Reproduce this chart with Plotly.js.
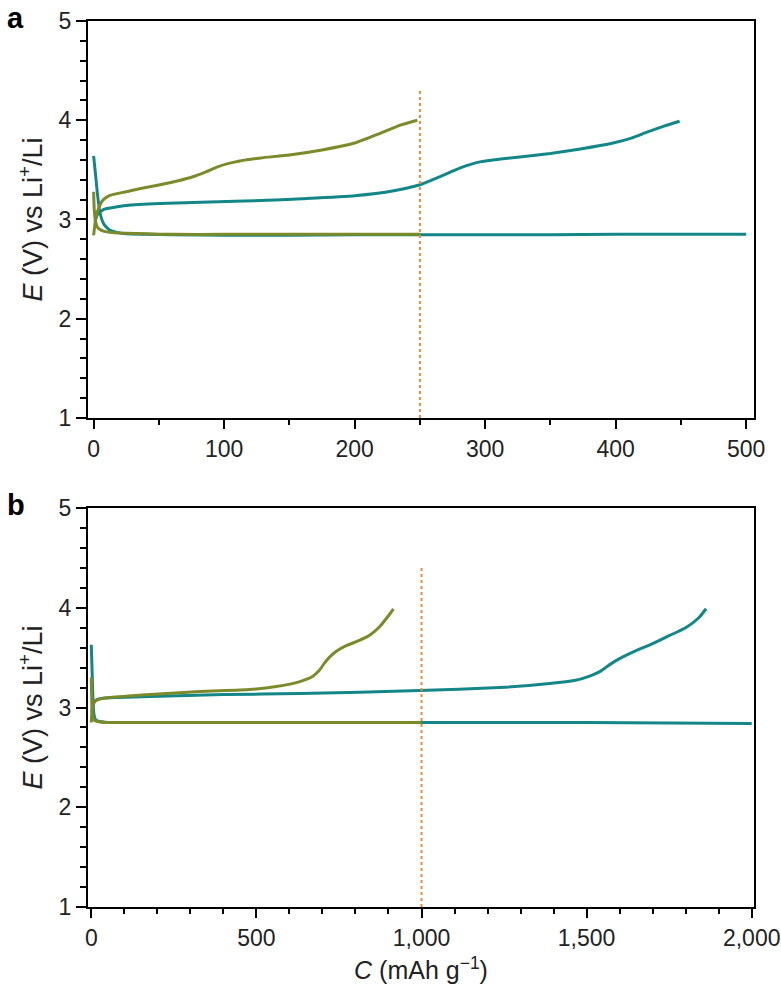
<!DOCTYPE html>
<html>
<head>
<meta charset="utf-8">
<script src="https://cdn.plot.ly/plotly-3.0.1.min.js"></script>
<style>
  body { margin: 0; background: #fff; }
  #chart { width: 781px; height: 997px; }
</style>
</head>
<body>
<div id="chart"></div>
<script>
// panel a: capacity (mAh/g) vs potential (V)
var aOliveChgC = [0, 1, 2.5, 5, 7.5, 12, 18, 25, 35, 51, 65, 76, 86, 95, 102, 112, 128, 150, 175, 200, 220, 235, 248];
var aOliveChgE = [2.84, 2.95, 3.06, 3.15, 3.2, 3.24, 3.26, 3.28, 3.31, 3.35, 3.39, 3.43, 3.48, 3.53, 3.56, 3.59, 3.62, 3.65, 3.7, 3.77, 3.87, 3.95, 4.0];
var aOliveDisC = [0, 0.5, 1.5, 3, 6, 10, 16, 25, 40, 60, 100, 150, 200, 250];
var aOliveDisE = [3.28, 3.1, 2.98, 2.92, 2.89, 2.875, 2.865, 2.86, 2.855, 2.85, 2.85, 2.85, 2.85, 2.85];
var aTealDisC = [0, 1.5, 3, 5, 8, 12.6, 18, 25, 40, 60, 100, 150, 200, 250, 300, 350, 400, 450, 500];
var aTealDisE = [3.64, 3.45, 3.25, 3.06, 2.95, 2.89, 2.87, 2.855, 2.85, 2.845, 2.84, 2.84, 2.845, 2.845, 2.845, 2.845, 2.85, 2.85, 2.85];
var aTealChgC = [1, 3, 7.5, 15, 25, 51, 76, 102, 128, 160, 200, 230, 250, 265, 281, 296, 312, 330, 350, 373, 398, 412, 424, 437, 449];
var aTealChgE = [2.98, 3.05, 3.1, 3.12, 3.14, 3.16, 3.17, 3.18, 3.19, 3.21, 3.24, 3.29, 3.35, 3.43, 3.52, 3.58, 3.61, 3.635, 3.665, 3.71, 3.77, 3.82, 3.88, 3.94, 3.99];
var aCutC = [250, 250];
var aCutE = [1, 4.3];

// panel b
var bOliveChgC = [0, 3, 8, 20, 57, 178, 329, 480, 560, 632, 670, 690, 705, 720, 740, 772, 810, 845, 873, 900, 915];
var bOliveChgE = [2.85, 3.0, 3.05, 3.08, 3.1, 3.13, 3.16, 3.18, 3.21, 3.26, 3.31, 3.37, 3.44, 3.5, 3.56, 3.62, 3.67, 3.73, 3.81, 3.92, 3.99];
var bOliveDisC = [0, 2, 5, 10, 20, 40, 100, 300, 600, 1000];
var bOliveDisE = [3.3, 3.0, 2.9, 2.87, 2.86, 2.85, 2.85, 2.85, 2.85, 2.85];
var bTealDisC = [0, 3, 6, 10, 15, 25, 50, 100, 500, 1000, 1500, 2000];
var bTealDisE = [3.63, 3.3, 3.0, 2.9, 2.87, 2.86, 2.85, 2.85, 2.85, 2.85, 2.85, 2.84];
var bTealChgC = [2, 6, 12, 30, 80, 178, 400, 632, 994, 1236, 1388, 1463, 1505, 1540, 1570, 1600, 1650, 1700, 1750, 1800, 1840, 1862];
var bTealChgE = [2.95, 3.03, 3.07, 3.09, 3.1, 3.11, 3.13, 3.14, 3.17, 3.2, 3.24, 3.27, 3.31, 3.36, 3.43, 3.49, 3.57, 3.64, 3.72, 3.8, 3.9, 3.99];
var bCutC = [1000, 1000];
var bCutE = [1, 4.4];

var teal = '#138787';
var olive = '#7c8a2a';
var orange = '#ee8a3a';

function curve(x, y, color, xa, ya) {
  return {
    x: x, y: y, xaxis: xa, yaxis: ya, mode: 'lines',
    line: {color: color, width: 3, shape: 'spline', smoothing: 0.5},
    hoverinfo: 'skip', showlegend: false
  };
}
function cut(x, y, xa, ya) {
  return {
    x: x, y: y, xaxis: xa, yaxis: ya, mode: 'lines',
    line: {color: orange, width: 2, dash: 'dot'},
    hoverinfo: 'skip', showlegend: false
  };
}

var data = [
  curve(aTealDisC, aTealDisE, teal, 'x', 'y'),
  curve(aTealChgC, aTealChgE, teal, 'x', 'y'),
  curve(aOliveDisC, aOliveDisE, olive, 'x', 'y'),
  curve(aOliveChgC, aOliveChgE, olive, 'x', 'y'),
  cut(aCutC, aCutE, 'x', 'y'),
  curve(bTealDisC, bTealDisE, teal, 'x2', 'y2'),
  curve(bTealChgC, bTealChgE, teal, 'x2', 'y2'),
  curve(bOliveDisC, bOliveDisE, olive, 'x2', 'y2'),
  curve(bOliveChgC, bOliveChgE, olive, 'x2', 'y2'),
  cut(bCutC, bCutE, 'x2', 'y2')
];

var fam = 'Liberation Sans, Arial, sans-serif';
var tickFont = {family: fam, size: 23, color: '#222'};
var yTitleFont = {family: fam, size: 27, color: '#222'};
var xTitleFont = {family: fam, size: 25, color: '#222'};

function yAxis(domain, anchor) {
  return {
    domain: domain, anchor: anchor, range: [1, 5], dtick: 1,
    showline: true, linecolor: '#000', linewidth: 2, mirror: true,
    ticks: 'outside', ticklen: 10, tickwidth: 2, tickcolor: '#000',
    minor: {dtick: 0.2, ticks: 'outside', ticklen: 6, tickwidth: 2, tickcolor: '#000', showgrid: false},
    showgrid: false, zeroline: false, tickfont: tickFont,
    title: {text: '<i>E</i> (V) vs Li<sup>+</sup>/Li', font: yTitleFont, standoff: 8}
  };
}
function xAxis(range, dtick, mdtick, anchor, fmt) {
  return {
    anchor: anchor, range: range, dtick: dtick, tickformat: fmt,
    showline: true, linecolor: '#000', linewidth: 2, mirror: true,
    ticks: 'outside', ticklen: 9, tickwidth: 2, tickcolor: '#000',
    minor: {dtick: mdtick, ticks: 'outside', ticklen: 5, tickwidth: 2, tickcolor: '#000', showgrid: false},
    showgrid: false, zeroline: false, tickfont: tickFont
  };
}

var layout = {
  width: 781, height: 997,
  margin: {l: 88, r: 27, t: 21, b: 90},
  paper_bgcolor: '#fff', plot_bgcolor: '#fff',
  font: tickFont,
  xaxis: xAxis([-4.3, 506], 100, 50, 'y', 'd'),
  yaxis: yAxis([0.552, 1], 'x'),
  xaxis2: Object.assign(xAxis([-10, 2007], 500, 100, 'y2', ',d'), {
    title: {text: '<i>C</i> (mAh g<sup>−1</sup>)', font: xTitleFont, standoff: 12}
  }),
  yaxis2: yAxis([0, 0.4503], 'x2'),
  annotations: [
    {text: '<b>a</b>', xref: 'paper', yref: 'paper', x: -0.125, y: 1.024, xanchor: 'left', yanchor: 'top',
     showarrow: false, font: {family: fam, size: 29, color: '#000'}},
    {text: '<b>b</b>', xref: 'paper', yref: 'paper', x: -0.125, y: 0.474, xanchor: 'left', yanchor: 'top',
     showarrow: false, font: {family: fam, size: 29, color: '#000'}}
  ]
};

Plotly.newPlot('chart', data, layout, {displayModeBar: false, staticPlot: true});
</script>
</body>
</html>
